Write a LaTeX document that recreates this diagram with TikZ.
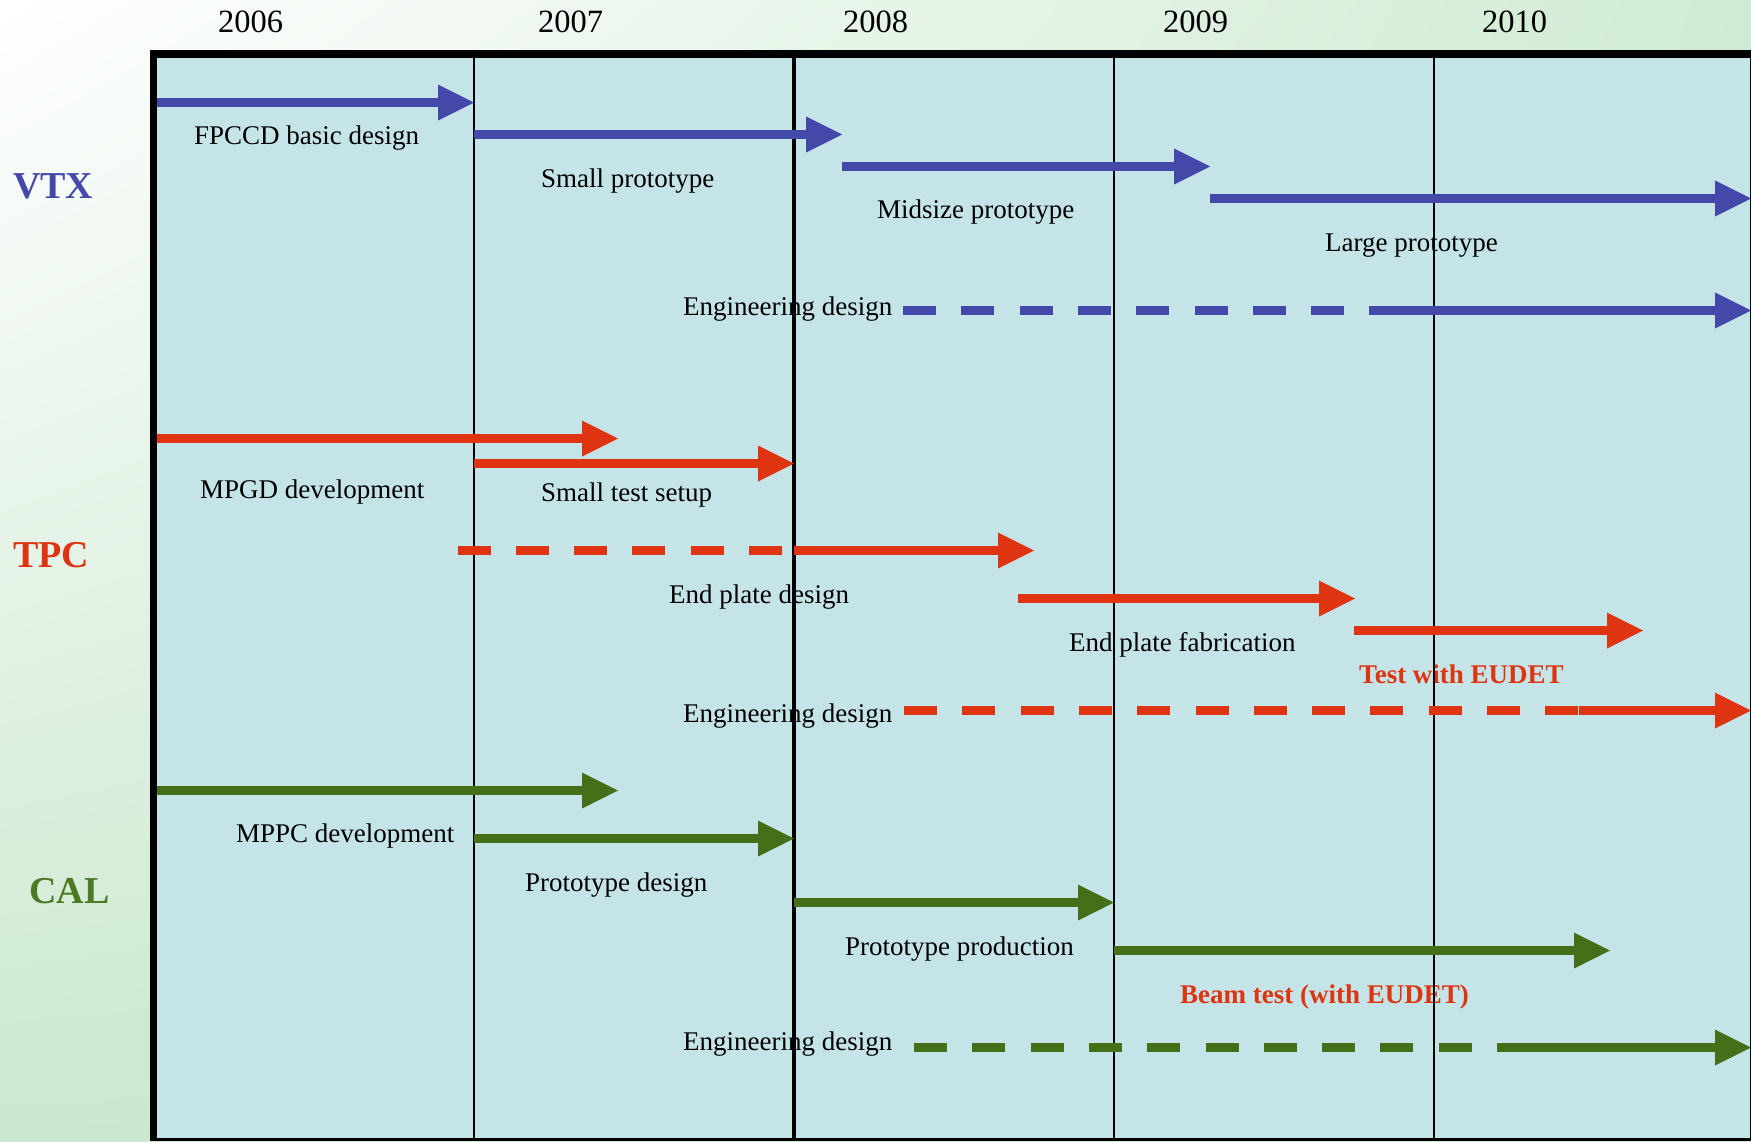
\documentclass[tikz,border=0pt]{standalone}
\usepackage{fontspec}
\setmainfont{Liberation Serif}
\usetikzlibrary{arrows.meta,shadings}
\definecolor{vtxblue}{HTML}{4448A8}
\definecolor{tpcred}{HTML}{DF3411}
\definecolor{calgreen}{HTML}{45701A}
\definecolor{calgreentxt}{HTML}{4C7A24}
\definecolor{panelblue}{HTML}{C5E4E7}
\definecolor{bgTR}{HTML}{D0EBD3}
\definecolor{bgBL}{HTML}{CAE8CF}
\definecolor{bgBR}{HTML}{C8E6CC}
\begin{document}
\begin{tikzpicture}[x=1pt,y=-1pt,
  lab/.style={anchor=base west, inner sep=0pt, font=\fontsize{27}{32}\selectfont},
  yr/.style={anchor=base west, inner sep=0pt, font=\fontsize{32.5}{38}\selectfont},
  grp/.style={anchor=base west, inner sep=0pt, font=\fontsize{38}{44}\selectfont\bfseries},
  eud/.style={anchor=base west, inner sep=0pt, font=\fontsize{27}{32}\selectfont\bfseries, text=tpcred},
  bar/.style={line width=9pt, -{Triangle[length=36pt,width=36pt,line width=0pt]}},
  dsh/.style={line width=9pt, dash pattern=on 33pt off 25.3pt},
  vline/.style={line width=1.6pt, black}]
\useasboundingbox (0,0) rectangle (1751,1141);
% background
\shade[upper left=white, upper right=bgTR, lower left=bgBL, lower right=bgBR] (0,0) rectangle (1751,1141);
\fill[panelblue] (153,54) rectangle (1751,1141);

% years
\node[yr] (y2006) at (218,32) {2006};
\node[yr] (y2007) at (538,32) {2007};
\node[yr] (y2008) at (843,32) {2008};
\node[yr] (y2009) at (1163,32) {2009};
\node[yr] (y2010) at (1482,32) {2010};

% group labels
\node[grp, text=vtxblue] (gvtx) at (13,198) {VTX};
\node[grp, text=tpcred] (gtpc) at (13,567) {TPC};
\node[grp, text=calgreentxt] (gcal) at (29,903) {CAL};

% task labels
\node[lab] (l1) at (194,144) {FPCCD basic design};
\node[lab] (l2) at (541,187) {Small prototype};
\node[lab] (l3) at (877,218) {Midsize prototype};
\node[lab] (l4) at (1325,251) {Large prototype};
\node[lab] (l5) at (683,315) {Engineering design};
\node[lab] (l6) at (200,498) {MPGD development};
\node[lab] (l7) at (541,501) {Small test setup};
\node[lab] (l8) at (669,603) {End plate design};
\node[lab] (l9) at (1069,651) {End plate fabrication};
\node[eud] (l10) at (1359,683) {Test with EUDET};
\node[lab] (l11) at (683,722) {Engineering design};
\node[lab] (l12) at (236,842) {MPPC development};
\node[lab] (l13) at (525,891) {Prototype design};
\node[lab] (l14) at (845,955) {Prototype production};
\node[eud] (l15) at (1180,1003) {Beam test (with EUDET)};
\node[lab] (l16) at (683,1050) {Engineering design};

% year separators
\coordinate (s1t) at (474,58);  \coordinate (s1b) at (474,1138);
\coordinate (s2t) at (794,58);  \coordinate (s2b) at (794,1138);
\coordinate (s3t) at (1114,58); \coordinate (s3b) at (1114,1138);
\coordinate (s4t) at (1434,58); \coordinate (s4b) at (1434,1138);
\draw[vline] (s1t) -- (s1b);
\draw[vline, line width=4pt] (s2t) -- (s2b);
\draw[vline] (s3t) -- (s3b);
\draw[vline] (s4t) -- (s4b);

% VTX arrows
\coordinate (v1a) at (154,102.5);  \coordinate (v1b) at (474,102.5);
\coordinate (v2a) at (474,134.5);  \coordinate (v2b) at (842,134.5);
\coordinate (v3a) at (842,166.5);  \coordinate (v3b) at (1210,166.5);
\coordinate (v4a) at (1210,198.5); \coordinate (v4b) at (1751,198.5);
\coordinate (v5a) at (903,310.5);  \coordinate (v5m) at (1402,310.5); \coordinate (v5b) at (1751,310.5);
\draw[bar, vtxblue] (v1a) -- (v1b);
\draw[bar, vtxblue] (v2a) -- (v2b);
\draw[bar, vtxblue] (v3a) -- (v3b);
\draw[bar, vtxblue] (v4a) -- (v4b);
\draw[dsh, vtxblue] (v5a) -- (v5m);
\draw[bar, vtxblue] (v5m) -- (v5b);

% TPC arrows
\coordinate (t1a) at (154,438.5);  \coordinate (t1b) at (618,438.5);
\coordinate (t2a) at (474,463.5);  \coordinate (t2b) at (794,463.5);
\coordinate (t3a) at (457.5,550.5); \coordinate (t3m) at (794,550.5); \coordinate (t3b) at (1034,550.5);
\coordinate (t4a) at (1018,598.5); \coordinate (t4b) at (1355,598.5);
\coordinate (t5a) at (1354,630.5); \coordinate (t5b) at (1643,630.5);
\coordinate (t6a) at (904,710.5);  \coordinate (t6m) at (1579,710.5); \coordinate (t6b) at (1751,710.5);
\draw[bar, tpcred] (t1a) -- (t1b);
\draw[bar, tpcred] (t2a) -- (t2b);
\draw[dsh, tpcred] (t3a) -- (t3m);
\draw[bar, tpcred] (t3m) -- (t3b);
\draw[bar, tpcred] (t4a) -- (t4b);
\draw[bar, tpcred] (t5a) -- (t5b);
\draw[dsh, tpcred] (t6a) -- (t6m);
\draw[bar, tpcred] (t6m) -- (t6b);

% CAL arrows
\coordinate (c1a) at (154,790.5);  \coordinate (c1b) at (618,790.5);
\coordinate (c2a) at (474,838.5);  \coordinate (c2b) at (794,838.5);
\coordinate (c3a) at (794,902.5);  \coordinate (c3b) at (1114,902.5);
\coordinate (c4a) at (1114,950.5); \coordinate (c4b) at (1610,950.5);
\coordinate (c5a) at (914,1047.5); \coordinate (c5m) at (1514,1047.5); \coordinate (c5b) at (1751,1047.5);
\draw[bar, calgreen] (c1a) -- (c1b);
\draw[bar, calgreen] (c2a) -- (c2b);
\draw[bar, calgreen] (c3a) -- (c3b);
\draw[bar, calgreen] (c4a) -- (c4b);
\draw[dsh, calgreen] (c5a) -- (c5m);
\draw[bar, calgreen] (c5m) -- (c5b);

% frame
\coordinate (fTL) at (150,54);   \coordinate (fTR) at (1751,54);
\coordinate (fLT) at (153.5,50); \coordinate (fLB) at (153.5,1141);
\coordinate (fBL) at (150,1139.5); \coordinate (fBR) at (1751,1139.5);
\coordinate (fRT) at (1750.5,54); \coordinate (fRB) at (1750.5,1141);
\draw[line width=8pt] (fTL) -- (fTR);
\draw[line width=7pt] (fLT) -- (fLB);
\draw[line width=3pt] (fBL) -- (fBR);
\draw[line width=1pt] (fRT) -- (fRB);
\end{tikzpicture}
\end{document}
